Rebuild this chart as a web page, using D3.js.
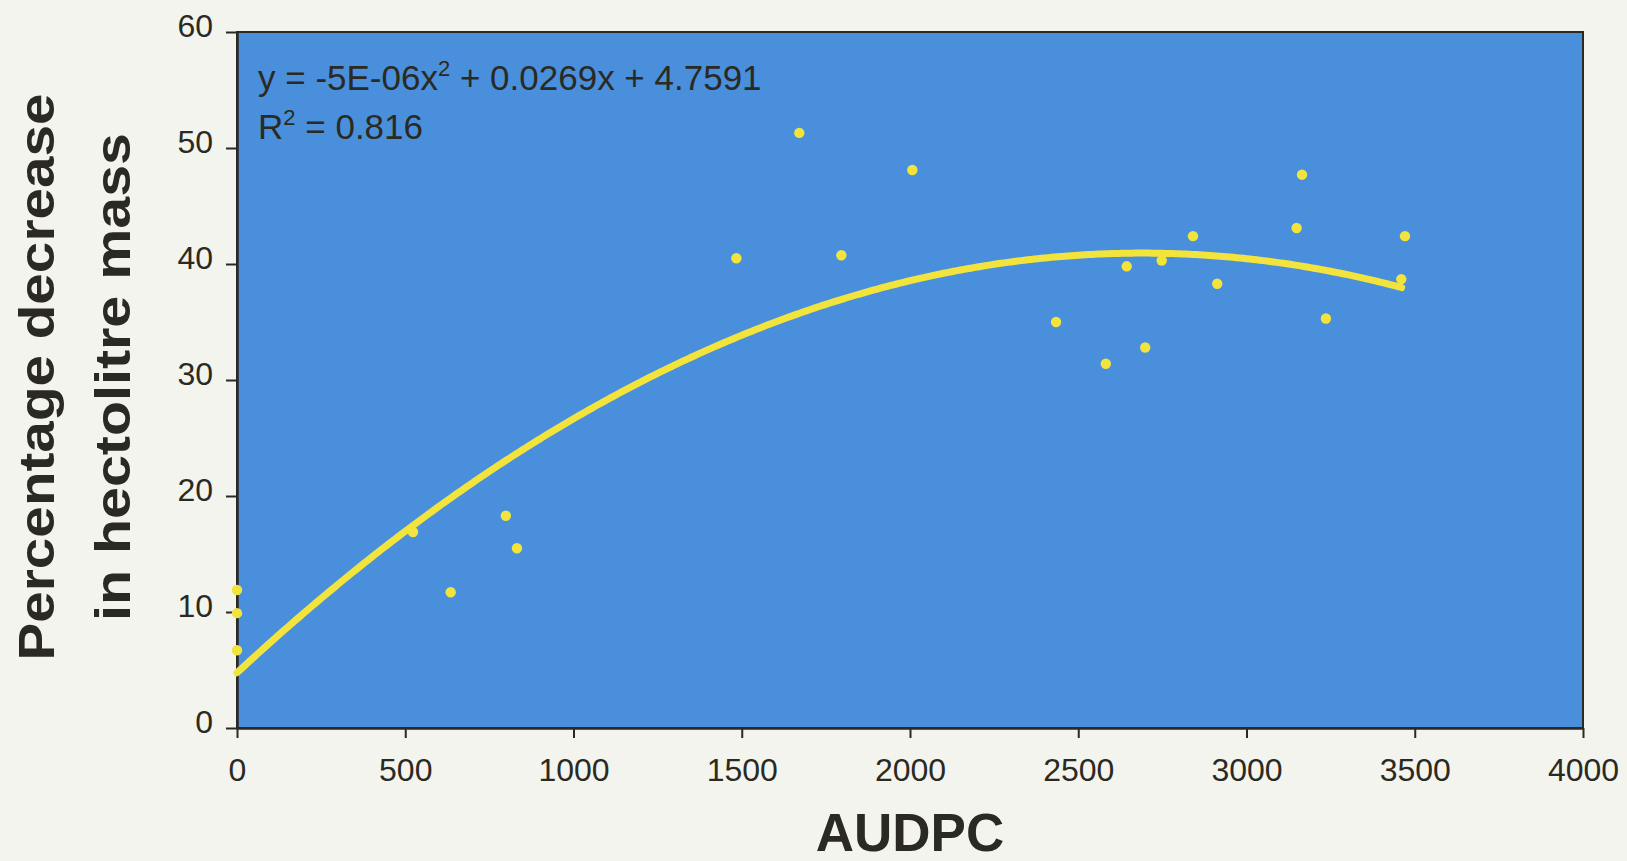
<!DOCTYPE html>
<html>
<head>
<meta charset="utf-8">
<script src="https://cdnjs.cloudflare.com/ajax/libs/d3/7.8.5/d3.min.js"></script>
<style>
  html, body { margin: 0; padding: 0; background: #f4f4ef; }
  svg { display: block; }
  text { font-family: "Liberation Sans", Arial, Helvetica, sans-serif; fill: #2a2a22; }
</style>
</head>
<body>
<svg id="chart" width="1627" height="861"></svg>
<script>
// Observations: AUDPC vs percentage decrease in hectolitre mass
const audpc    = [0, 0, 0, 523, 635, 799, 832, 1484, 1671, 1796, 2007, 2434, 2582, 2644, 2699, 2748, 2841, 2913, 3149, 3165, 3236, 3460, 3471];
const decrease = [11.9, 9.9, 6.7, 16.9, 11.7, 18.3, 15.5, 40.5, 51.3, 40.75, 48.1, 35.0, 31.4, 39.8, 32.8, 40.3, 42.4, 38.3, 43.1, 47.7, 35.3, 38.7, 42.4];

// Polynomial trend line coefficients (a x^2 + b x + c), as printed on the chart
const trendCoef = [-5e-6, 0.0269, 4.7591];
const rSquared = 0.816;

const xTicks = [0, 500, 1000, 1500, 2000, 2500, 3000, 3500, 4000];
const yTicks = [0, 10, 20, 30, 40, 50, 60];

const svg = d3.select("#chart");
const plot = { left: 237, right: 1583, top: 32, bottom: 728 };

const x = d3.scaleLinear().domain([0, 4000]).range([plot.left, plot.right]);
const y = d3.scaleLinear().domain([0, 60]).range([plot.bottom, plot.top]);

const ink = "#2a2a22";
const yellow = "#f2e43c";

// plot area
svg.append("rect")
  .attr("x", plot.left).attr("y", plot.top)
  .attr("width", plot.right - plot.left).attr("height", plot.bottom - plot.top)
  .attr("fill", "#4a8fdc")
  .attr("stroke", ink).attr("stroke-width", 2);

// axes
const xAxis = svg.append("g")
  .attr("transform", `translate(0,${plot.bottom})`)
  .call(d3.axisBottom(x).tickValues(xTicks).tickFormat(d3.format("d")).tickSize(10).tickSizeOuter(0));
xAxis.select(".domain").attr("stroke", ink).attr("stroke-width", 2.5);
xAxis.selectAll(".tick line").attr("stroke", ink).attr("stroke-width", 2);
xAxis.selectAll(".tick text")
  .attr("y", 0).attr("dy", 0)
  .attr("transform", "translate(0,53)")
  .style("font-size", "32px").attr("fill", ink);

const yAxis = svg.append("g")
  .attr("transform", `translate(${plot.left},0)`)
  .call(d3.axisLeft(y).tickValues(yTicks).tickFormat(d3.format("d")).tickSize(11).tickSizeOuter(0));
yAxis.select(".domain").attr("stroke", ink).attr("stroke-width", 2.5);
yAxis.selectAll(".tick line").attr("stroke", ink).attr("stroke-width", 2);
yAxis.selectAll(".tick text")
  .attr("x", -24).attr("dy", 0)
  .attr("transform", "translate(0,4)")
  .style("font-size", "32px").attr("fill", ink);

// trend line
const xMax = d3.max(audpc) - 10;
const curveXs = d3.range(0, xMax, 10).concat([xMax]);
const trend = v => trendCoef[0] * v * v + trendCoef[1] * v + trendCoef[2];
svg.append("path")
  .datum(curveXs)
  .attr("d", d3.line().x(d => x(d)).y(d => y(trend(d))))
  .attr("fill", "none")
  .attr("stroke", yellow)
  .attr("stroke-width", 7)
  .attr("stroke-linecap", "round");

// observations
svg.append("g").selectAll("circle")
  .data(audpc.map((a, i) => [a, decrease[i]]))
  .join("circle")
  .attr("cx", d => x(d[0]))
  .attr("cy", d => y(d[1]))
  .attr("r", 5.2)
  .attr("fill", yellow);

// equation label
const eq = svg.append("text")
  .attr("x", plot.left + 21).attr("y", 90)
  .style("font-size", "35px");
eq.append("tspan").text("y = -5E-06x");
eq.append("tspan").attr("dy", -14).style("font-size", "22px").text("2");
eq.append("tspan").attr("dy", 14).text(` + ${trendCoef[1]}x + ${trendCoef[2]}`);

const r2 = svg.append("text")
  .attr("x", plot.left + 21).attr("y", 139)
  .style("font-size", "35px");
r2.append("tspan").text("R");
r2.append("tspan").attr("dy", -14).style("font-size", "22px").text("2");
r2.append("tspan").attr("dy", 14).text(` = ${rSquared}`);

// axis titles
svg.append("text")
  .attr("x", (plot.left + plot.right) / 2).attr("y", 851)
  .attr("text-anchor", "middle")
  .style("font-size", "53px").style("font-weight", "bold")
  .text("AUDPC");

const yTitle = svg.append("g").attr("transform", "translate(0,377) rotate(-90)");
yTitle.append("text")
  .attr("x", 0).attr("y", 54)
  .attr("text-anchor", "middle")
  .attr("textLength", 567).attr("lengthAdjust", "spacingAndGlyphs")
  .style("font-size", "50px").style("font-weight", "bold")
  .text("Percentage decrease");
yTitle.append("text")
  .attr("x", 0).attr("y", 130)
  .attr("text-anchor", "middle")
  .attr("textLength", 488).attr("lengthAdjust", "spacingAndGlyphs")
  .style("font-size", "50px").style("font-weight", "bold")
  .text("in hectolitre mass");
</script>
</body>
</html>
